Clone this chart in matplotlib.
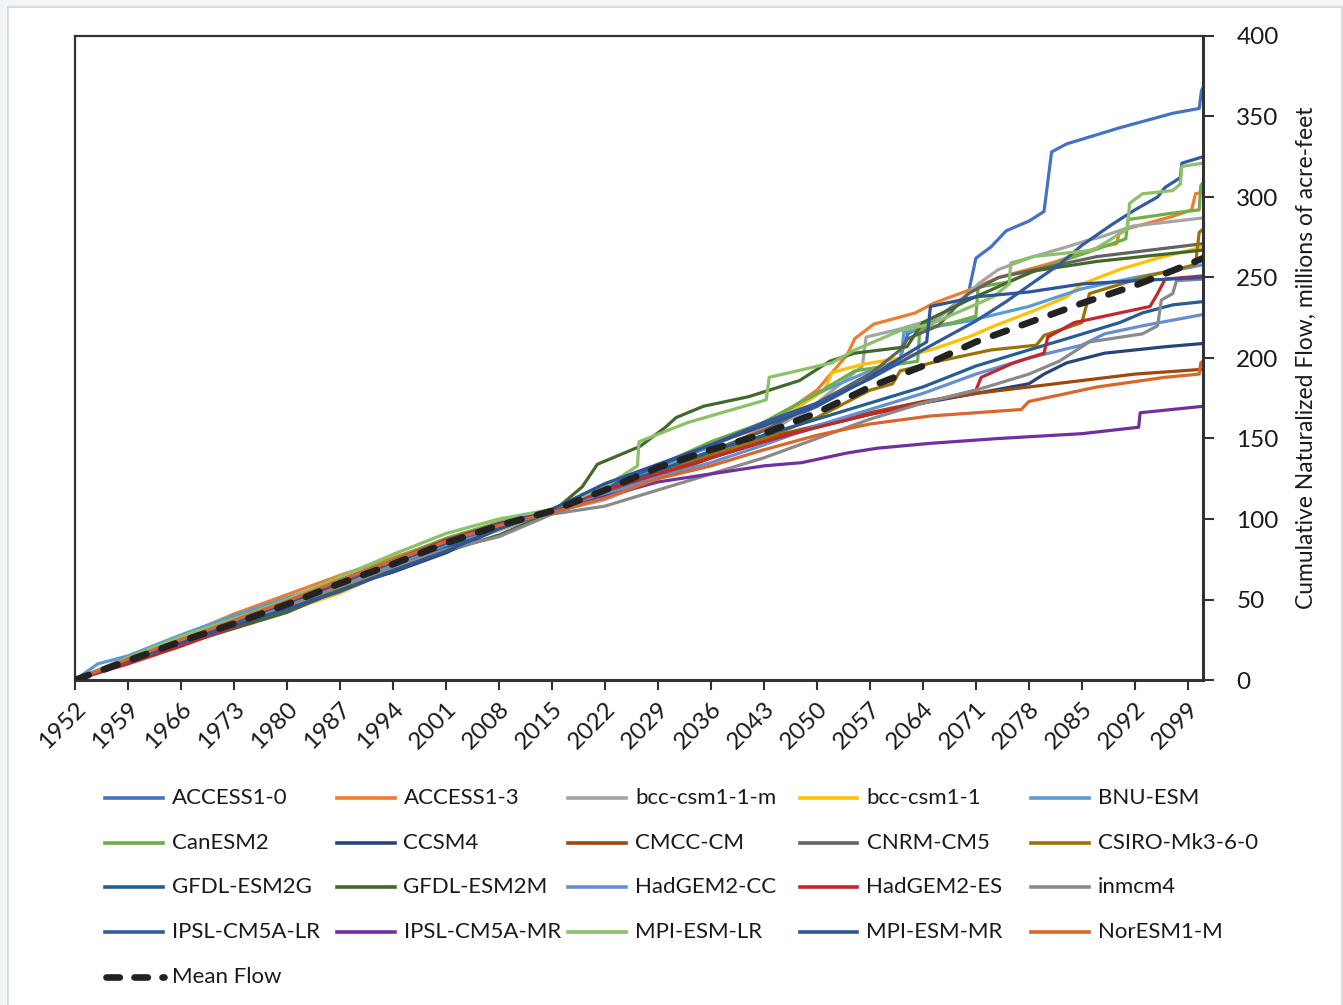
import matplotlib
matplotlib.use("Agg")
import matplotlib.pyplot as plt
from matplotlib.lines import Line2D
from matplotlib.patches import Rectangle

plt.rcParams['font.family'] = ['Lato', 'DejaVu Sans']

# ---------------- data: cumulative naturalized flow (millions of acre-feet) ----------------
ACCESS1_0_YEARS = [1952, 1959, 1966, 1973, 1980, 1987, 1994, 2001, 2008, 2015, 2022, 2029, 2036, 2043, 2050, 2055, 2061, 2062, 2066, 2070, 2071, 2073, 2075, 2078, 2080, 2081, 2083, 2090, 2097, 2100.5, 2100.8, 2101]
ACCESS1_0_FLOW = [0, 13, 25, 37, 49, 61, 73, 84, 95, 106, 120, 131, 142, 155, 170, 185, 200, 215, 225, 240, 262, 269, 279, 285, 291, 328, 333, 343, 352, 355, 366, 368]

ACCESS1_3_YEARS = [1952, 1959, 1966, 1973, 1980, 1987, 1994, 2001, 2008, 2015, 2022, 2029, 2036, 2043, 2050, 2054, 2055, 2057.5, 2063, 2065.4, 2070, 2074, 2081, 2087.4, 2089.6, 2090, 2097, 2099.5, 2100, 2101]
ACCESS1_3_FLOW = [0, 14, 27, 41, 53, 65, 76, 87, 97, 105, 117, 128, 140, 157, 180, 202, 212, 221, 228, 234, 242, 250, 259, 269, 271, 279, 288, 292, 302, 303]

BCC_M_YEARS = [1952, 1959, 1966, 1973, 1980, 1987, 1994, 2001, 2008, 2015, 2022, 2029, 2036, 2043, 2050, 2056, 2056.5, 2061, 2066, 2068, 2070, 2071.3, 2074, 2078.6, 2083, 2085.7, 2087.4, 2091.8, 2101]
BCC_M_FLOW = [0, 12, 23, 34, 46, 58, 70, 82, 93, 104, 112, 125, 138, 152, 172, 195, 213, 218, 225, 232, 240, 246, 255, 263, 269, 273, 275, 282, 287]

BCC_YEARS = [1952, 1959, 1966, 1973, 1980, 1987, 1994, 2001, 2008, 2015, 2022, 2029, 2036, 2043, 2046, 2051, 2052, 2056, 2061, 2065, 2070, 2074, 2079, 2083, 2085, 2090, 2095, 2101]
BCC_FLOW = [0, 11, 22, 33, 43, 54, 69, 84, 96, 105, 118, 131, 146, 158, 165, 180, 191, 196, 200, 205, 213, 221, 230, 238, 246, 255, 262, 269]

BNU_YEARS = [1952, 1955, 1959, 1966, 1973, 1980, 1987, 1994, 2001, 2008, 2015, 2022, 2029, 2036, 2043, 2050, 2057, 2061, 2061.5, 2070, 2078, 2085, 2092, 2099, 2101]
BNU_FLOW = [0, 10, 15, 28, 40, 51, 62, 74, 85, 96, 105, 119, 132, 145, 160, 178, 192, 198, 216, 223, 232, 243, 250, 256, 258]

CANESM2_YEARS = [1952, 1959, 1966, 1973, 1980, 1987, 1994, 2001, 2008, 2015, 2022, 2029, 2036, 2043, 2050, 2055, 2063.3, 2063.6, 2068, 2071, 2071.3, 2075, 2081, 2086, 2090.8, 2091.1, 2097, 2100.5, 2100.7, 2101]
CANESM2_FLOW = [0, 13, 26, 36, 47, 62, 75, 88, 98, 106, 120, 133, 148, 160, 178, 192, 198, 218, 222, 226, 244, 247, 258, 266, 274, 286, 290, 292, 307, 309]

CCSM4_YEARS = [1952, 1959, 1966, 1973, 1980, 1987, 1994, 2001, 2008, 2015, 2022, 2029, 2036, 2043, 2050, 2057, 2064, 2071, 2078, 2080, 2083, 2088, 2096, 2101]
CCSM4_FLOW = [0, 11, 22, 33, 45, 57, 67, 79, 94, 106, 115, 127, 138, 148, 157, 165, 172, 178, 184, 190, 197, 203, 207, 209]

CMCC_YEARS = [1952, 1959, 1966, 1973, 1980, 1987, 1994, 2001, 2008, 2015, 2022, 2029, 2036, 2043, 2050, 2057, 2064, 2071, 2078, 2085, 2092, 2101]
CMCC_FLOW = [0, 12, 24, 35, 47, 60, 72, 85, 96, 104, 114, 126, 138, 150, 158, 166, 173, 178, 182, 186, 190, 193]

CNRM_YEARS = [1952, 1959, 1966, 1973, 1980, 1987, 1994, 2001, 2008, 2015, 2022, 2029, 2036, 2043, 2050, 2057, 2061, 2062, 2066, 2070, 2074, 2080, 2087, 2094, 2101]
CNRM_FLOW = [0, 12, 24, 36, 48, 59, 71, 83, 95, 104, 116, 128, 142, 155, 172, 190, 205, 212, 220, 240, 250, 256, 263, 267, 271]

CSIRO_YEARS = [1952, 1959, 1966, 1973, 1980, 1987, 1994, 2001, 2008, 2015, 2022, 2029, 2036, 2043, 2050, 2057, 2060, 2061, 2066, 2073, 2079, 2080, 2085, 2086, 2093, 2100, 2100.5, 2101]
CSIRO_FLOW = [0, 12, 25, 36, 47, 59, 71, 84, 95, 105, 118, 128, 140, 150, 163, 180, 184, 192, 198, 205, 208, 214, 222, 240, 250, 258, 278, 280]

GFDL_G_YEARS = [1952, 1959, 1966, 1973, 1980, 1987, 1994, 2001, 2008, 2015, 2022, 2029, 2036, 2043, 2050, 2057, 2064, 2071, 2078, 2083, 2090, 2093, 2097, 2101]
GFDL_G_FLOW = [0, 11, 23, 34, 46, 57, 69, 82, 94, 105, 118, 130, 142, 152, 162, 172, 182, 195, 205, 212, 222, 228, 233, 235]

GFDL_M_YEARS = [1952, 1959, 1966, 1973, 1980, 1987, 1994, 2001, 2008, 2015, 2019, 2021, 2026.6, 2030, 2031.4, 2035, 2041, 2043.7, 2047.7, 2051.7, 2055, 2061.9, 2063, 2064, 2070, 2078.6, 2087, 2101]
GFDL_M_FLOW = [0, 11, 22, 32, 42, 56, 68, 80, 90, 104, 120, 134, 145, 157, 163, 170, 176, 180, 186, 198, 203, 207, 215, 222, 236, 254, 260, 267]

HADCC_YEARS = [1952, 1959, 1966, 1973, 1980, 1987, 1994, 2001, 2008, 2015, 2022, 2029, 2036, 2043, 2050, 2057, 2064, 2071, 2078, 2085, 2088, 2093, 2101]
HADCC_FLOW = [0, 12, 24, 36, 48, 60, 72, 84, 95, 105, 115, 126, 135, 146, 158, 168, 178, 190, 200, 208, 215, 220, 227]

HADES_YEARS = [1952, 1959, 1966, 1973, 1980, 1987, 1994, 2001, 2008, 2015, 2022, 2029, 2036, 2043, 2050, 2057, 2064, 2071, 2071.7, 2076, 2080, 2080.5, 2084, 2094, 2095, 2096, 2101]
HADES_FLOW = [0, 10, 21, 33, 46, 60, 74, 87, 97, 105, 118, 128, 138, 148, 157, 165, 172, 180, 188, 197, 203, 213, 222, 232, 240, 249, 251]

INMCM4_YEARS = [1952, 1959, 1966, 1973, 1980, 1987, 1994, 2001, 2008, 2015, 2022, 2029, 2036, 2043, 2050, 2057, 2064, 2071, 2078, 2082, 2086, 2093, 2095, 2095.5, 2097, 2097.5, 2101]
INMCM4_FLOW = [0, 12, 23, 34, 46, 58, 70, 81, 89, 103, 108, 118, 128, 138, 150, 162, 172, 180, 190, 198, 210, 215, 220, 236, 240, 248, 249]

IPSL_LR_YEARS = [1952, 1959, 1966, 1973, 1980, 1987, 1994, 2001, 2008, 2015, 2022, 2029, 2036, 2043, 2050, 2057, 2064, 2071, 2075, 2078, 2082, 2085, 2089, 2092, 2095, 2096, 2098, 2098.2, 2101]
IPSL_LR_FLOW = [0, 13, 24, 36, 48, 61, 73, 85, 96, 106, 120, 133, 146, 160, 172, 187, 205, 223, 235, 245, 258, 270, 283, 292, 300, 306, 312, 321, 325]

IPSL_MR_YEARS = [1952, 1959, 1966, 1973, 1980, 1987, 1994, 2001, 2008, 2015, 2022, 2029, 2036, 2043, 2048, 2054, 2058, 2065, 2074, 2085, 2092.5, 2092.7, 2101]
IPSL_MR_FLOW = [0, 14, 26, 38, 50, 62, 74, 86, 97, 104, 114, 123, 128, 133, 135, 141, 144, 147, 150, 153, 157, 166, 170]

MPI_LR_YEARS = [1952, 1959, 1966, 1973, 1980, 1987, 1994, 2001, 2008, 2015, 2022, 2026.3, 2026.5, 2033, 2043.3, 2043.7, 2052, 2055, 2061, 2065, 2073.3, 2075.4, 2075.6, 2078.6, 2086.5, 2091, 2091.3, 2093, 2097, 2098, 2098.2, 2101]
MPI_LR_FLOW = [0, 14, 27, 38, 50, 64, 78, 91, 100, 106, 120, 133, 148, 160, 174, 188, 197, 205, 217, 221, 238, 246, 259, 263, 267, 280, 296, 302, 304, 308, 319, 321]

MPI_MR_YEARS = [1952, 1959, 1966, 1973, 1980, 1987, 1994, 2001, 2008, 2015, 2022, 2029, 2036, 2043, 2050, 2056, 2061, 2064.5, 2065, 2071, 2078, 2085, 2092, 2101]
MPI_MR_FLOW = [0, 12, 23, 34, 44, 55, 68, 80, 94, 106, 122, 134, 146, 158, 170, 185, 200, 210, 232, 238, 241, 246, 248, 250]

NORESM_YEARS = [1952, 1959, 1966, 1973, 1980, 1987, 1994, 2001, 2008, 2015, 2022, 2029, 2036, 2043, 2050, 2057, 2065, 2077, 2078, 2081, 2087, 2096, 2100.5, 2100.7, 2101]
NORESM_FLOW = [0, 13, 25, 37, 49, 62, 74, 86, 96, 104, 113, 125, 133, 143, 152, 159, 164, 168, 173, 176, 182, 188, 190, 197, 198]

MEAN_YEARS = [1952, 1959, 1966, 1973, 1980, 1987, 1994, 2001, 2008, 2015, 2022, 2029, 2036, 2043, 2050, 2057, 2064, 2071, 2078, 2085, 2092, 2099, 2101]
MEAN_FLOW = [0, 12, 24, 35, 47, 60, 72, 85, 96, 105, 118, 132, 143, 153, 166, 182, 195, 210, 222, 234, 245, 258, 262]

MODEL_NAMES = ["ACCESS1-0", "ACCESS1-3", "bcc-csm1-1-m", "bcc-csm1-1", "BNU-ESM",
               "CanESM2", "CCSM4", "CMCC-CM", "CNRM-CM5", "CSIRO-Mk3-6-0",
               "GFDL-ESM2G", "GFDL-ESM2M", "HadGEM2-CC", "HadGEM2-ES", "inmcm4",
               "IPSL-CM5A-LR", "IPSL-CM5A-MR", "MPI-ESM-LR", "MPI-ESM-MR", "NorESM1-M"]
MODEL_YEARS = [ACCESS1_0_YEARS, ACCESS1_3_YEARS, BCC_M_YEARS, BCC_YEARS, BNU_YEARS,
               CANESM2_YEARS, CCSM4_YEARS, CMCC_YEARS, CNRM_YEARS, CSIRO_YEARS,
               GFDL_G_YEARS, GFDL_M_YEARS, HADCC_YEARS, HADES_YEARS, INMCM4_YEARS,
               IPSL_LR_YEARS, IPSL_MR_YEARS, MPI_LR_YEARS, MPI_MR_YEARS, NORESM_YEARS]
MODEL_FLOWS = [ACCESS1_0_FLOW, ACCESS1_3_FLOW, BCC_M_FLOW, BCC_FLOW, BNU_FLOW,
               CANESM2_FLOW, CCSM4_FLOW, CMCC_FLOW, CNRM_FLOW, CSIRO_FLOW,
               GFDL_G_FLOW, GFDL_M_FLOW, HADCC_FLOW, HADES_FLOW, INMCM4_FLOW,
               IPSL_LR_FLOW, IPSL_MR_FLOW, MPI_LR_FLOW, MPI_MR_FLOW, NORESM_FLOW]
MODEL_COLORS = ["#4472C4", "#ED7D31", "#A5A5A5", "#FFC000", "#5B9BD5",
                "#70AD47", "#264478", "#9E480E", "#636363", "#997300",
                "#255E91", "#43682B", "#698ED0", "#C0282D", "#8A8A8A",
                "#335AA1", "#7030A0", "#8CC168", "#2F5597", "#D9662B"]

X_TICKS = list(range(1952, 2100, 7))
Y_TICKS = list(range(0, 401, 50))

# ---------------- figure ----------------
W, H = 1343, 1005
fig = plt.figure(figsize=(W / 100, H / 100), dpi=100, facecolor="#F2F5F7")

# white chart area with a thin grey frame
fig.add_artist(Rectangle((8 / W, -0.01), (1342 - 8) / W, 1.01 - 7 / H,
                         transform=fig.transFigure, facecolor="white",
                         edgecolor="#D4D4D4", linewidth=1.2, zorder=0))

ax = fig.add_axes([75 / W, 1 - 680 / H, (1203 - 75) / W, (680 - 36) / H])
ax.set_facecolor("white")

for name, yrs, flow, col in zip(MODEL_NAMES, MODEL_YEARS, MODEL_FLOWS, MODEL_COLORS):
    ax.plot(yrs, flow, color=col, linewidth=2.3, solid_joinstyle="round", label=name)

ax.plot(MEAN_YEARS, MEAN_FLOW, color="#222222", linewidth=4.8, dashes=(2.2, 2.4),
        dash_capstyle="round", label="Mean Flow", zorder=5)

ax.set_xlim(1952, 2101)
ax.set_ylim(0, 400)
ax.set_xticks(X_TICKS)
ax.set_xticklabels([str(t) for t in X_TICKS], rotation=45, ha="right", va="top",
                   rotation_mode="anchor", fontsize=17.5)
ax.yaxis.tick_right()
ax.yaxis.set_label_position("right")
ax.set_yticks(Y_TICKS)
ax.set_yticklabels([str(t) for t in Y_TICKS], fontsize=17.5)
ax.set_ylabel("Cumulative Naturalized Flow, millions of acre-feet", fontsize=16.5,
              labelpad=12, color="#1a1a1a")

ax.tick_params(axis="x", direction="out", length=7, width=1.5, color="#333333",
               pad=6, labelcolor="#1a1a1a")
ax.tick_params(axis="y", direction="out", length=8, width=1.5, color="#333333",
               pad=16, labelcolor="#1a1a1a")
for side in ["left", "top"]:
    ax.spines[side].set_color("#333333")
    ax.spines[side].set_linewidth(1.6)
for side in ["right", "bottom"]:
    ax.spines[side].set_color("#333333")
    ax.spines[side].set_linewidth(2.2)

# ---------------- legend (5 columns, row-major order) ----------------
row_y = [798, 843, 887, 932, 977]
col_x = [105, 336.5, 568, 799.5, 1031]
entries = list(zip(MODEL_NAMES, MODEL_COLORS)) + [("Mean Flow", None)]
for i, (name, col) in enumerate(entries):
    r, c = divmod(i, 5)
    x0, y0 = col_x[c], row_y[r]
    fy = 1 - y0 / H
    if col is None:
        # two dashes followed by a round dot, like the plotted mean line
        fig.add_artist(Line2D([(x0 + 1) / W, (x0 + 58.5) / W], [fy, fy],
                              transform=fig.transFigure, color="#222222",
                              linewidth=4.8, dashes=(2.0, 2.2), dash_capstyle="round"))
    else:
        fig.add_artist(Line2D([x0 / W, (x0 + 58) / W], [fy, fy],
                              transform=fig.transFigure, color=col, linewidth=2.6))
    fig.text((x0 + 67) / W, fy, name, fontsize=16, va="center", ha="left",
             color="#1a1a1a")

fig.savefig("out.png", dpi=100, facecolor=fig.get_facecolor())
